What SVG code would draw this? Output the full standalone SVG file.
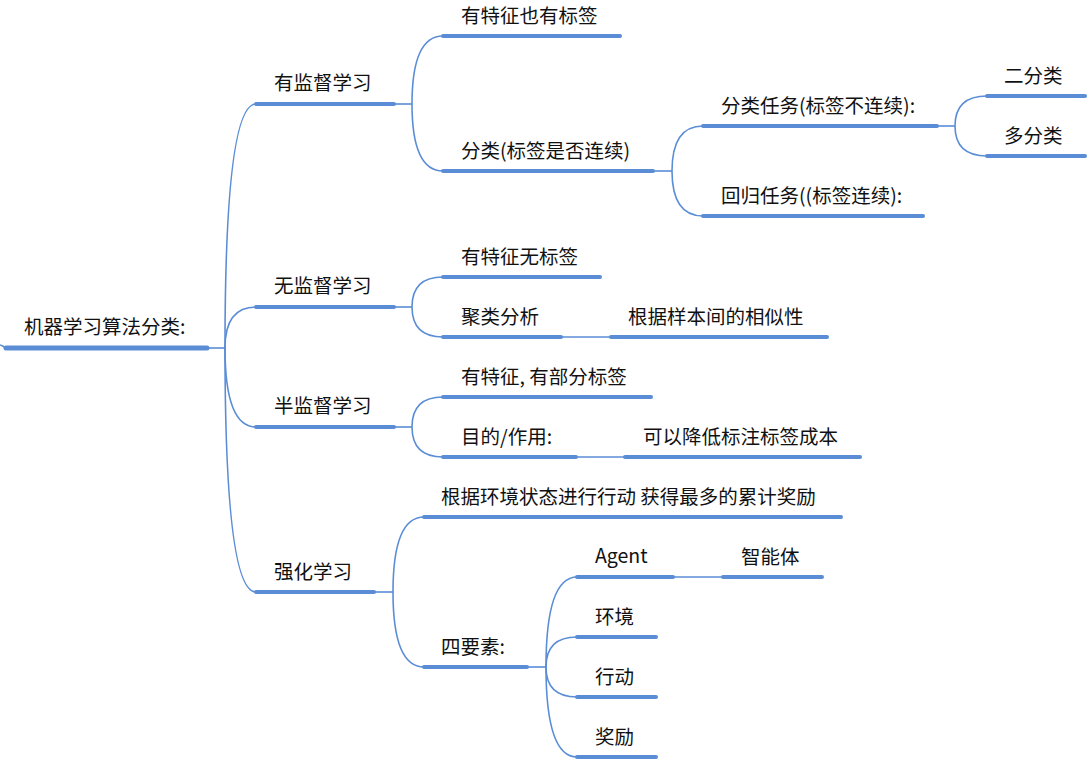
<svg xmlns="http://www.w3.org/2000/svg" width="1090" height="780" viewBox="0 0 1090 780">
<style>
.u{stroke:#5a8dd6;stroke-width:4;stroke-linecap:round;fill:none}
.r{stroke:#5a8dd6;stroke-width:5;stroke-linecap:round;fill:none}
.c{stroke:#5a8dd6;stroke-width:1.6;fill:none}
text{font-family:"Noto Sans CJK SC","Noto Sans",sans-serif;font-size:19.5px;fill:#111}
</style>
<rect width="1090" height="780" fill="#fff"/>
<g id="connectors">
<path class="c" d="M0,345 Q3,345.5 5,348"/>
<path class="c" d="M207,348 H225"/>
<path class="c" d="M225,348 Q225,104 256,104"/>
<path class="c" d="M225,348 Q225,307 256,307"/>
<path class="c" d="M225,348 Q225,427 256,427"/>
<path class="c" d="M225,348 Q225,592 256,592"/>
<path class="c" d="M394,104 H412"/>
<path class="c" d="M412,104 Q412,36 443,36"/>
<path class="c" d="M412,104 Q412,171 443,171"/>
<path class="c" d="M653,171 H672"/>
<path class="c" d="M672,171 Q672,126 703,126"/>
<path class="c" d="M672,171 Q672,216 703,216"/>
<path class="c" d="M937,126 H955"/>
<path class="c" d="M955,126 Q955,96 987,96"/>
<path class="c" d="M955,126 Q955,156 987,156"/>
<path class="c" d="M394,307 H412"/>
<path class="c" d="M412,307 Q412,277 443,277"/>
<path class="c" d="M412,307 Q412,337 443,337"/>
<path class="c" d="M561,337 H611"/>
<path class="c" d="M394,427 H412"/>
<path class="c" d="M412,427 Q412,397 443,397"/>
<path class="c" d="M412,427 Q412,457 443,457"/>
<path class="c" d="M576,457 H625"/>
<path class="c" d="M374,592 H393"/>
<path class="c" d="M393,592 Q393,517 424,517"/>
<path class="c" d="M393,592 Q393,667 424,667"/>
<path class="c" d="M527,667 H546"/>
<path class="c" d="M546,667 Q546,577 577,577"/>
<path class="c" d="M546,667 Q546,637 577,637"/>
<path class="c" d="M546,667 Q546,697 577,697"/>
<path class="c" d="M546,667 Q546,757 577,757"/>
<path class="c" d="M673,577 H723"/>
</g>
<g id="root"><line class="r" x1="6" y1="348" x2="207" y2="348"/><text x="24" y="334">机器学习算法分类:</text></g>
<g id="n-supervised"><line class="u" x1="256" y1="104" x2="394" y2="104"/><text x="274" y="90">有监督学习</text></g>
<g id="n-sup-1"><line class="u" x1="443" y1="36" x2="620" y2="36"/><text x="461" y="22.5">有特征也有标签</text></g>
<g id="n-sup-2"><line class="u" x1="443" y1="171" x2="653" y2="171"/><text x="461" y="157.5">分类(标签是否连续)</text></g>
<g id="n-cls"><line class="u" x1="703" y1="126" x2="937" y2="126"/><text x="721" y="112.5">分类任务(标签不连续):</text></g>
<g id="n-reg"><line class="u" x1="703" y1="216" x2="923" y2="216"/><text x="721" y="202.5">回归任务((标签连续):</text></g>
<g id="n-bin"><line class="u" x1="987" y1="96" x2="1085" y2="96"/><text x="1004" y="82.5">二分类</text></g>
<g id="n-multi"><line class="u" x1="987" y1="156" x2="1085" y2="156"/><text x="1004" y="142.5">多分类</text></g>
<g id="n-unsupervised"><line class="u" x1="256" y1="307" x2="394" y2="307"/><text x="274" y="293">无监督学习</text></g>
<g id="n-uns-1"><line class="u" x1="443" y1="277" x2="600" y2="277"/><text x="461" y="263.5">有特征无标签</text></g>
<g id="n-uns-2"><line class="u" x1="443" y1="337" x2="561" y2="337"/><text x="461" y="323.5">聚类分析</text></g>
<g id="n-uns-3"><line class="u" x1="611" y1="337" x2="827" y2="337"/><text x="628" y="323.5">根据样本间的相似性</text></g>
<g id="n-semi"><line class="u" x1="256" y1="427" x2="394" y2="427"/><text x="274" y="413">半监督学习</text></g>
<g id="n-semi-1"><line class="u" x1="443" y1="397" x2="651" y2="397"/><text x="461" y="383.5">有特征, 有部分标签</text></g>
<g id="n-semi-2"><line class="u" x1="443" y1="457" x2="576" y2="457"/><text x="461" y="443.5">目的/作用:</text></g>
<g id="n-semi-3"><line class="u" x1="625" y1="457" x2="860" y2="457"/><text x="643" y="443.5">可以降低标注标签成本</text></g>
<g id="n-rl"><line class="u" x1="256" y1="592" x2="374" y2="592"/><text x="274" y="578.5">强化学习</text></g>
<g id="n-rl-1"><line class="u" x1="424" y1="517" x2="841" y2="517"/><text x="441" y="503.5">根据环境状态进行行动 获得最多的累计奖励</text></g>
<g id="n-rl-2"><line class="u" x1="424" y1="667" x2="527" y2="667"/><text x="441" y="653.5">四要素:</text></g>
<g id="n-agent"><line class="u" x1="577" y1="577" x2="673" y2="577"/><text x="595" y="563">Agent</text></g>
<g id="n-agent-1"><line class="u" x1="723" y1="577" x2="822" y2="577"/><text x="741" y="563.5">智能体</text></g>
<g id="n-env"><line class="u" x1="577" y1="637" x2="656" y2="637"/><text x="595" y="623.5">环境</text></g>
<g id="n-act"><line class="u" x1="577" y1="697" x2="656" y2="697"/><text x="595" y="683.5">行动</text></g>
<g id="n-rew"><line class="u" x1="577" y1="757" x2="656" y2="757"/><text x="595" y="743.5">奖励</text></g>
</svg>
